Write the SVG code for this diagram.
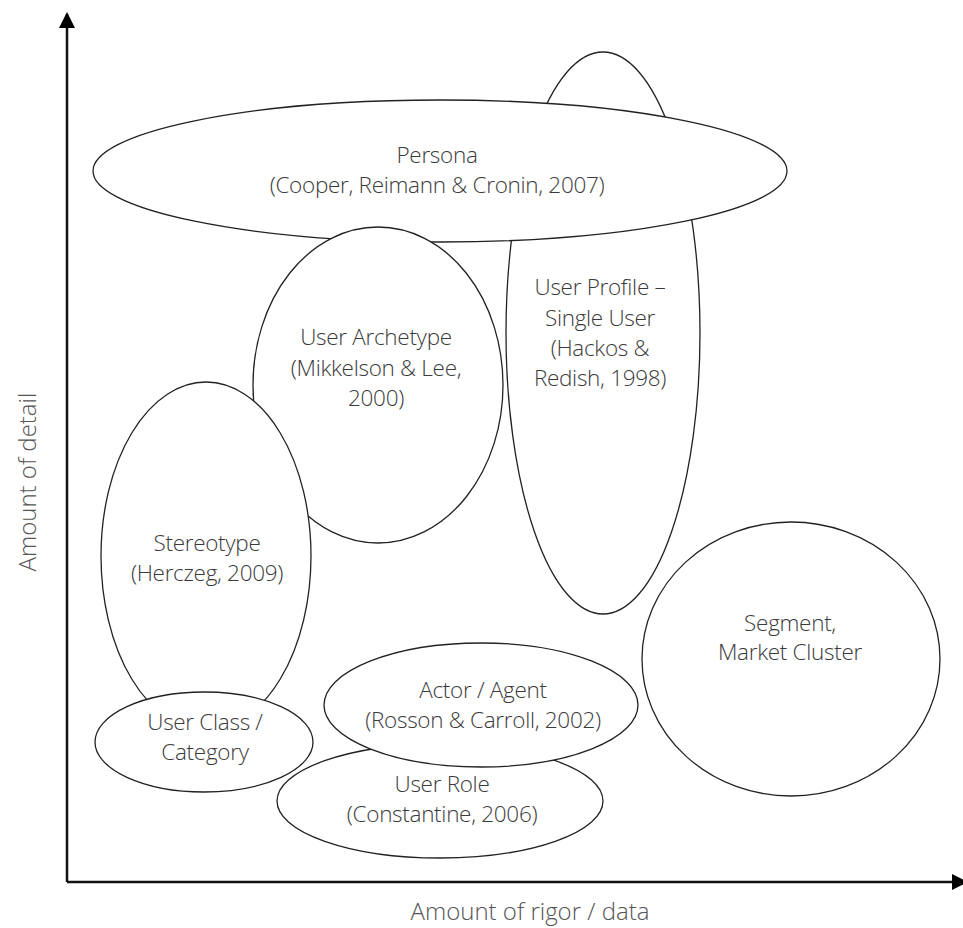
<svg xmlns="http://www.w3.org/2000/svg" width="963" height="928" viewBox="0 0 963 928">
<style>
.n{fill:#fff;stroke:#222;stroke-width:1.3}
.t{font-family:"Open Sans","DejaVu Sans",sans-serif;font-size:22.5px;fill:#3a3a3a;text-anchor:middle;font-weight:300;letter-spacing:-0.3px}
.ax{font-family:"Open Sans","DejaVu Sans",sans-serif;font-size:24px;fill:#555;text-anchor:middle;font-weight:300}
.axis{stroke:#111;stroke-width:2.5;fill:none}
</style>
<defs>
<marker id="ah2" markerWidth="16" markerHeight="16" refX="14" refY="8" orient="auto" markerUnits="userSpaceOnUse">
<path d="M0,0 L16,8 L0,16 Z" fill="#000"/>
</marker>
</defs>
<rect width="963" height="928" fill="#fff"/>
<g id="connectors">
<path class="axis" d="M67,882 L67,14" marker-end="url(#ah2)"/>
<path class="axis" d="M67,882 L966,882" marker-end="url(#ah2)"/>
</g>
<g id="user-profile">
<ellipse class="n" cx="603" cy="333" rx="97" ry="281"/>
<text class="t" x="600" y="295">User Profile –</text>
<text class="t" x="600" y="326">Single User</text>
<text class="t" x="600" y="356">(Hackos &amp;</text>
<text class="t" x="600" y="386">Redish, 1998)</text>
</g>
<g id="persona">
<ellipse class="n" cx="440" cy="171" rx="347" ry="71"/>
<text class="t" x="437" y="163">Persona</text>
<text class="t" x="437" y="193">(Cooper, Reimann &amp; Cronin, 2007)</text>
</g>
<g id="user-archetype">
<ellipse class="n" cx="378" cy="385" rx="125" ry="158"/>
<text class="t" x="376" y="345">User Archetype</text>
<text class="t" x="376" y="376">(Mikkelson &amp; Lee,</text>
<text class="t" x="376" y="406">2000)</text>
</g>
<g id="stereotype">
<ellipse class="n" cx="206" cy="556" rx="105" ry="174"/>
<text class="t" x="207" y="551">Stereotype</text>
<text class="t" x="207" y="581">(Herczeg, 2009)</text>
</g>
<g id="user-class">
<ellipse class="n" cx="204" cy="742" rx="109" ry="50"/>
<text class="t" x="205" y="730">User Class /</text>
<text class="t" x="205" y="760">Category</text>
</g>
<g id="user-role">
<ellipse class="n" cx="440" cy="801" rx="163" ry="57"/>
<text class="t" x="442" y="792">User Role</text>
<text class="t" x="442" y="822">(Constantine, 2006)</text>
</g>
<g id="actor-agent">
<ellipse class="n" cx="481" cy="705" rx="157" ry="62"/>
<text class="t" x="483" y="698">Actor / Agent</text>
<text class="t" x="483" y="728">(Rosson &amp; Carroll, 2002)</text>
</g>
<g id="segment">
<ellipse class="n" cx="791" cy="659" rx="149" ry="137"/>
<text class="t" x="790" y="631">Segment,</text>
<text class="t" x="790" y="660">Market Cluster</text>
</g>
<text class="ax" x="530" y="920">Amount of rigor / data</text>
<text class="ax" transform="translate(36,482) rotate(-90)" x="0" y="0">Amount of detail</text>
</svg>
